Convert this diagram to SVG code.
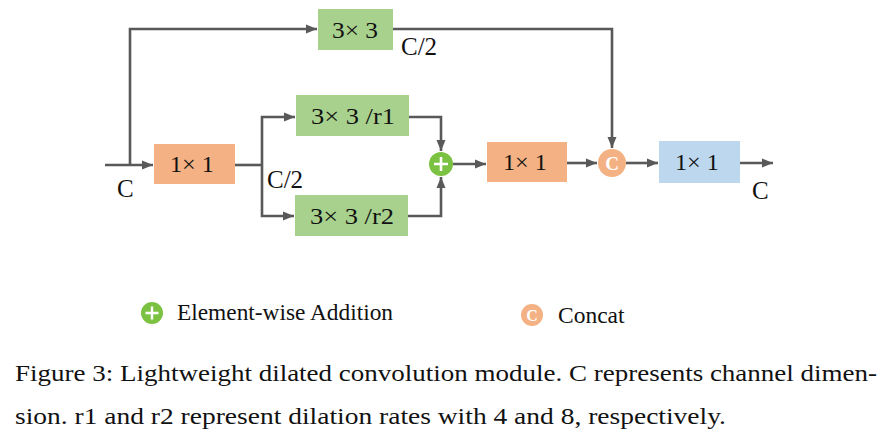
<svg xmlns="http://www.w3.org/2000/svg" width="887" height="434" viewBox="0 0 887 434" font-family="'Liberation Serif', serif">
<defs>
<marker id="ah" markerUnits="userSpaceOnUse" markerWidth="12" markerHeight="12" viewBox="0 0 12 12" refX="11" refY="6" orient="auto">
<path d="M0,1.5 L11,6 L0,10.5 z" fill="#595959"/>
</marker>
</defs>
<style>
.ln{fill:none;stroke:#595959;stroke-width:2.6}
.arr{marker-end:url(#ah)}
.g{fill:#a9d18e}
.o{fill:#f4b183}
.b{fill:#bdd7ee}
</style>
<rect width="887" height="434" fill="#fff"/>
<g id="connectors">
<path class="ln arr" d="M105,165 H153"/>
<path class="ln arr" d="M130,165 V29 H317"/>
<path class="ln" d="M235,165 H262"/>
<path class="ln arr" d="M262,165 V117 H295"/>
<path class="ln arr" d="M262,165 V216 H294"/>
<path class="ln arr" d="M409,117 H441 V151"/>
<path class="ln arr" d="M408,216 H441 V177"/>
<path class="ln arr" d="M453,164 H486"/>
<path class="ln arr" d="M567,163 H597"/>
<path class="ln arr" d="M393,29 H612 V148"/>
<path class="ln arr" d="M626,163 H658"/>
<path class="ln arr" d="M740,163 H773"/>
</g>
<g id="top33">
<rect class="g" x="318" y="9" width="75" height="41"/>
<text x="332" y="38" font-family="'Liberation Serif', serif" font-size="23" fill="#111" textLength="46" lengthAdjust="spacingAndGlyphs">3× 3</text>
</g>
<g id="conv1x1a">
<rect class="o" x="154" y="144" width="81" height="40"/>
<text x="170" y="172" font-family="'Liberation Serif', serif" font-size="23" fill="#111" textLength="44" lengthAdjust="spacingAndGlyphs">1× 1</text>
</g>
<g id="r1">
<rect class="g" x="296" y="95" width="113" height="41"/>
<text x="311" y="124" font-family="'Liberation Serif', serif" font-size="23" fill="#111" textLength="84" lengthAdjust="spacingAndGlyphs">3× 3 /r1</text>
</g>
<g id="r2">
<rect class="g" x="295" y="195" width="113" height="41"/>
<text x="310" y="224" font-family="'Liberation Serif', serif" font-size="23" fill="#111" textLength="84" lengthAdjust="spacingAndGlyphs">3× 3 /r2</text>
</g>
<g id="add">
<circle cx="441" cy="164" r="12" fill="#7cc242"/>
<path d="M441,157 V171 M434,164 H448" stroke="#fff" stroke-width="2.6"/>
</g>
<g id="conv1x1b">
<rect class="o" x="487" y="142" width="80" height="40"/>
<text x="503" y="170" font-family="'Liberation Serif', serif" font-size="23" fill="#111" textLength="44" lengthAdjust="spacingAndGlyphs">1× 1</text>
</g>
<g id="concat">
<circle cx="612" cy="163" r="14" fill="#f4b183"/>
<text x="612" y="170" font-family="'Liberation Serif', serif" font-size="19" font-weight="bold" fill="#fff" text-anchor="middle">C</text>
</g>
<g id="conv1x1c">
<rect class="b" x="659" y="141" width="81" height="42"/>
<text x="675" y="170" font-family="'Liberation Serif', serif" font-size="23" fill="#111" textLength="44" lengthAdjust="spacingAndGlyphs">1× 1</text>
</g>
<g id="labels" font-family="'Liberation Serif', serif" font-size="25" fill="#111">
<text x="117" y="197">C</text>
<text x="267" y="188">C/2</text>
<text x="401" y="55">C/2</text>
<text x="752" y="199">C</text>
</g>
<g id="legend" font-family="'Liberation Serif', serif" fill="#111">
<circle cx="152" cy="313" r="11" fill="#7cc242"/>
<path d="M152,306.5 V319.5 M145.5,313 H158.5" stroke="#fff" stroke-width="2.4"/>
<text x="177" y="320" font-size="23.5" textLength="216" lengthAdjust="spacingAndGlyphs">Element-wise Addition</text>
<circle cx="532" cy="315" r="11" fill="#f4b183"/>
<text x="532" y="321" font-size="16" font-weight="bold" fill="#fff" text-anchor="middle">C</text>
<text x="558" y="323" font-size="23.5">Concat</text>
</g>
<g id="caption" font-family="'Liberation Serif', serif" font-size="23.5" fill="#111">
<text x="15" y="381" textLength="862" lengthAdjust="spacingAndGlyphs">Figure 3: Lightweight dilated convolution module. C represents channel dimen-</text>
<text x="15" y="424" textLength="711" lengthAdjust="spacingAndGlyphs">sion. r1 and r2 represent dilation rates with 4 and 8, respectively.</text>
</g>
</svg>
